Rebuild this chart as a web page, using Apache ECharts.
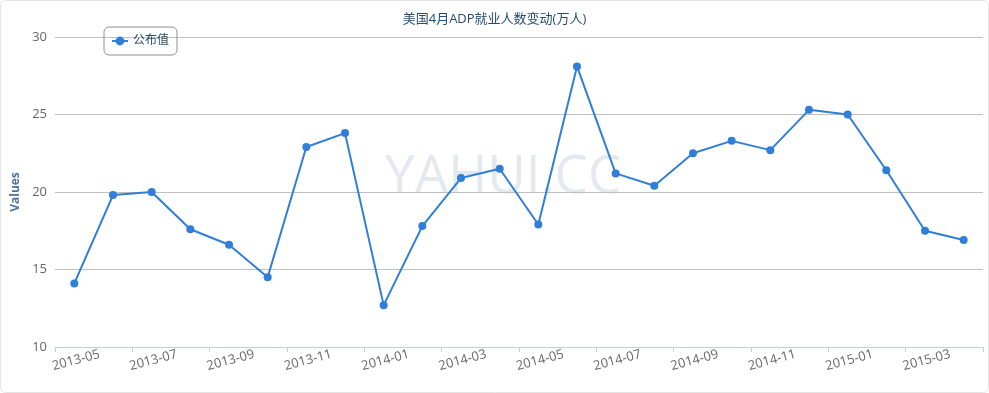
<!DOCTYPE html>
<html>
<head>
<meta charset="utf-8">
<script src="https://cdn.jsdelivr.net/npm/echarts@6/dist/echarts.min.js"></script>
<style>
html,body{margin:0;padding:0;background:#fff;}
#main{width:989px;height:393px;}
</style>
</head>
<body>
<div id="main"></div>
<script>
const months = ['2013-05','2013-06','2013-07','2013-08','2013-09','2013-10','2013-11','2013-12',
  '2014-01','2014-02','2014-03','2014-04','2014-05','2014-06','2014-07','2014-08','2014-09','2014-10','2014-11','2014-12',
  '2015-01','2015-02','2015-03','2015-04'];
const published = [14.1, 19.8, 20.0, 17.6, 16.6, 14.5, 22.9, 23.8, 12.7, 17.8, 20.9, 21.5, 17.9, 28.1, 21.2, 20.4, 22.5, 23.3, 22.7, 25.3, 25.0, 21.4, 17.5, 16.9];
const yTicks = [10, 15, 20, 25, 30];
const seriesName = '公布值';
const titleText = '美国4月ADP就业人数变动(万人)';
const yAxisName = 'Values';
const watermark = 'YAHUI.CC';

const font = '"Open Sans", "Noto Sans CJK SC", sans-serif';
const chart = echarts.init(document.getElementById('main'));
chart.setOption({
  animation: false,
  textStyle: {fontFamily: font},
  title: {
    text: titleText,
    left: 'center',
    top: 8,
    textStyle: {fontSize: 13, fontWeight: 'normal', color: '#274b6d', fontFamily: font}
  },
  legend: {
    left: 104,
    top: 27,
    padding: [8, 8, 8, 7],
    borderColor: '#909090',
    borderWidth: 1,
    borderRadius: 5,
    itemWidth: 16,
    itemHeight: 11,
    itemGap: 5,
    textStyle: {fontSize: 12, color: '#274b6d', fontFamily: font, lineHeight: 12},
    data: [seriesName]
  },
  graphic: [
    {
      type: 'text',
      left: 385,
      top: 151,
      z: -10,
      silent: true,
      style: {text: watermark, fontSize: 53, fill: '#e3e9ef', fontFamily: '"Open Sans", sans-serif'}
    },
    {
      type: 'rect',
      z: -10,
      silent: true,
      shape: {x: 0.5, y: 0.5, width: 988, height: 392, r: 5},
      style: {fill: 'none', stroke: '#e4e4e4', lineWidth: 1}
    }
  ],
  grid: {left: 55, right: 6, top: 37, bottom: 46, containLabel: false, outerBoundsMode: 'none'},
  xAxis: {
    type: 'category',
    data: months,
    boundaryGap: true,
    axisLine: {lineStyle: {color: '#c0d0e0'}},
    axisTick: {show: true, interval: 1, length: 5, lineStyle: {color: '#c0d0e0'}},
    axisLabel: {
      interval: 1,
      rotate: 15,
      align: 'center',
      verticalAlign: 'top',
      margin: 7,
      fontSize: 13,
      color: '#666',
      fontFamily: font
    },
    splitLine: {show: false}
  },
  yAxis: {
    type: 'value',
    min: yTicks[0],
    max: yTicks[yTicks.length - 1],
    interval: 5,
    name: yAxisName,
    nameLocation: 'middle',
    nameRotate: 90,
    nameGap: 31,
    nameTextStyle: {fontSize: 12, fontWeight: 'bold', color: '#4d759e', fontFamily: font},
    axisLine: {show: false},
    axisTick: {show: false},
    axisLabel: {margin: 8, fontSize: 13, color: '#666', fontFamily: font},
    splitLine: {lineStyle: {color: '#c0c0c0', width: 1}}
  },
  series: [{
    name: seriesName,
    type: 'line',
    data: published,
    symbol: 'circle',
    symbolSize: 8,
    itemStyle: {color: '#2f7ed8'},
    lineStyle: {color: '#2f7ed8', width: 2}
  }]
});
</script>
</body>
</html>
